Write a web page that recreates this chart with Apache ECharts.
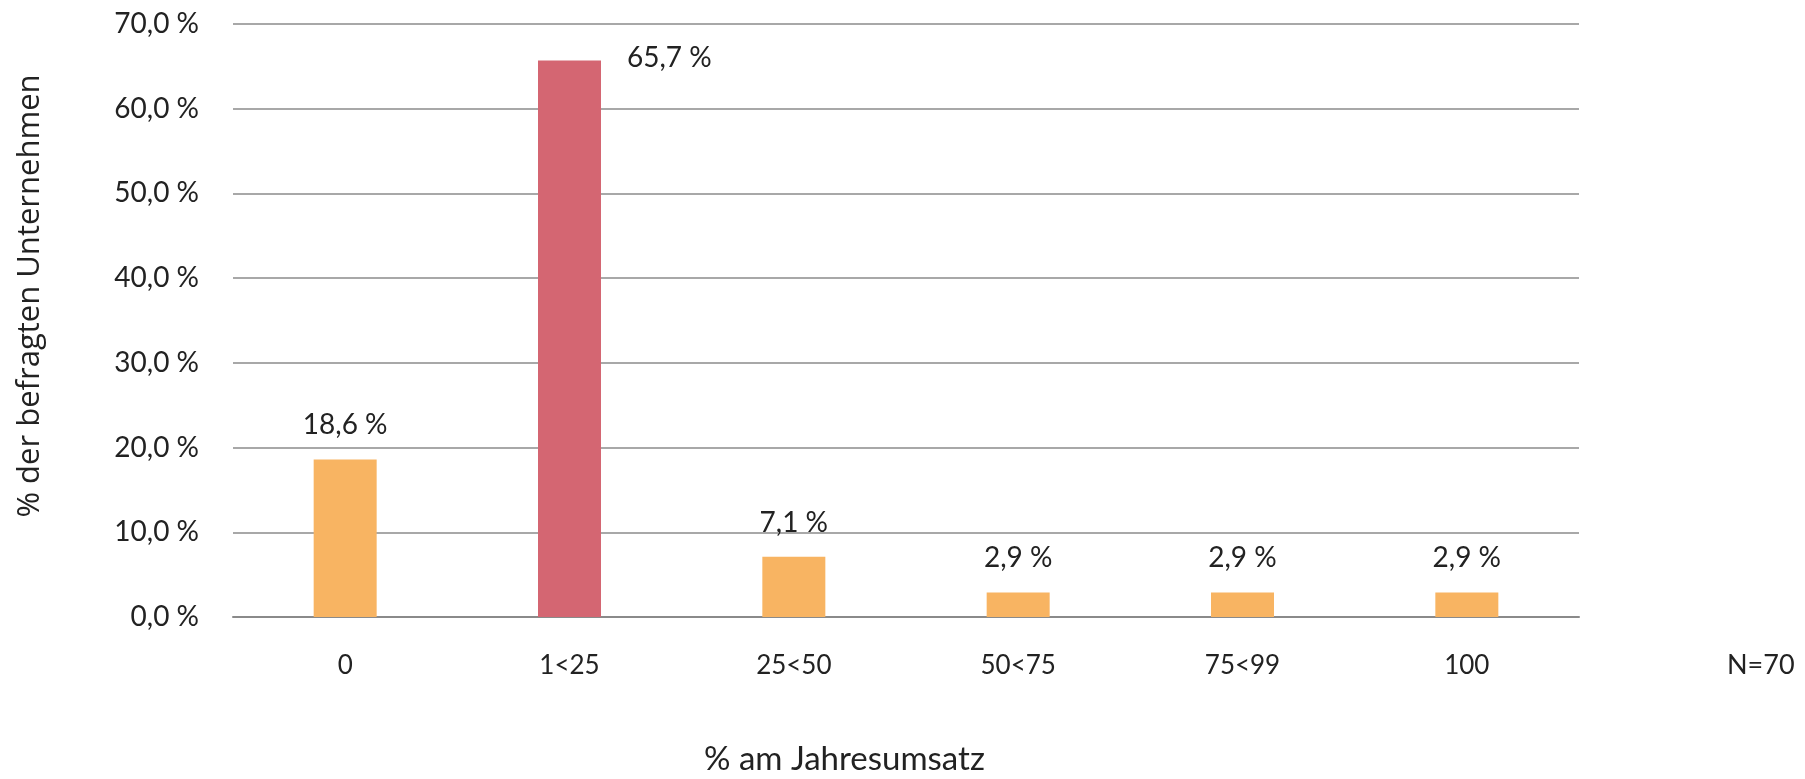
<!DOCTYPE html>
<html>
<head>
<meta charset="utf-8">
<script src="https://cdn.jsdelivr.net/npm/echarts@6/dist/echarts.min.js"></script>
<style>
  html, body { margin: 0; padding: 0; background: #fff; }
  #chart { width: 1805px; height: 779px; }
</style>
</head>
<body>
<div id="chart"></div>
<script>
// kategorien und werte aus der grafik
const categories = ['0', '1<25', '25<50', '50<75', '75<99', '100']
const shares = [18.6, 65.7, 7.1, 2.9, 2.9, 2.9]
const highlightIndex = 1
const yTicks = [0, 10, 20, 30, 40, 50, 60, 70]

const orange = '#F8B462'
const red = '#D46672'

const fmt = v => v.toFixed(1).replace('.', ',') + ' %'

const myChart = echarts.init(document.getElementById('chart'))

const data = shares.map((v, i) => {
  const item = {
    value: v,
    itemStyle: { color: i === highlightIndex ? red : orange }
  }
  if (i === highlightIndex) {
    // label steht rechts neben dem balken
    item.label = { position: [89, -16] }
  }
  return item
})

const option = {
  animation: false,
  grid: {
    left: 233,
    right: 226,
    top: 24,
    bottom: 162
  },
  xAxis: {
    type: 'category',
    data: categories,
    axisLine: { lineStyle: { color: '#8a8a8a', width: 2 } },
    axisTick: { show: false },
    axisLabel: {
      margin: 36,
      fontFamily: 'Lato',
      fontSize: 26,
      color: '#222'
    }
  },
  yAxis: {
    type: 'value',
    min: yTicks[0],
    max: yTicks[yTicks.length - 1],
    interval: 10,
    axisLine: { show: false },
    axisTick: { show: false },
    splitLine: { lineStyle: { color: '#a8a8a8', width: 2 } },
    axisLabel: {
      margin: 34,
      fontFamily: 'Lato',
      fontSize: 28,
      color: '#222',
      formatter: v => fmt(v)
    }
  },
  graphic: [
    {
      type: 'text',
      x: 30,
      y: 296,
      rotation: Math.PI / 2,
      style: {
        text: '% der befragten Unternehmen',
        fontFamily: 'Open Sans',
        fontSize: 31,
        fill: '#222',
        textAlign: 'center',
        textVerticalAlign: 'middle'
      }
    },
    {
      type: 'text',
      left: 704,
      top: 743,
      style: {
        text: '% am Jahresumsatz',
        fontFamily: 'Lato',
        fontSize: 33,
        fill: '#222'
      }
    },
    {
      type: 'text',
      left: 1727,
      top: 652,
      style: {
        text: 'N=70',
        fontFamily: 'Lato',
        fontSize: 27,
        fill: '#222'
      }
    }
  ],
  series: [
    {
      type: 'bar',
      barWidth: 63,
      data: data,
      label: {
        show: true,
        position: 'top',
        distance: 20,
        fontFamily: 'Lato',
        fontSize: 28,
        color: '#222',
        formatter: p => fmt(p.value)
      }
    }
  ]
}
myChart.setOption(option)
</script>
</body>
</html>
